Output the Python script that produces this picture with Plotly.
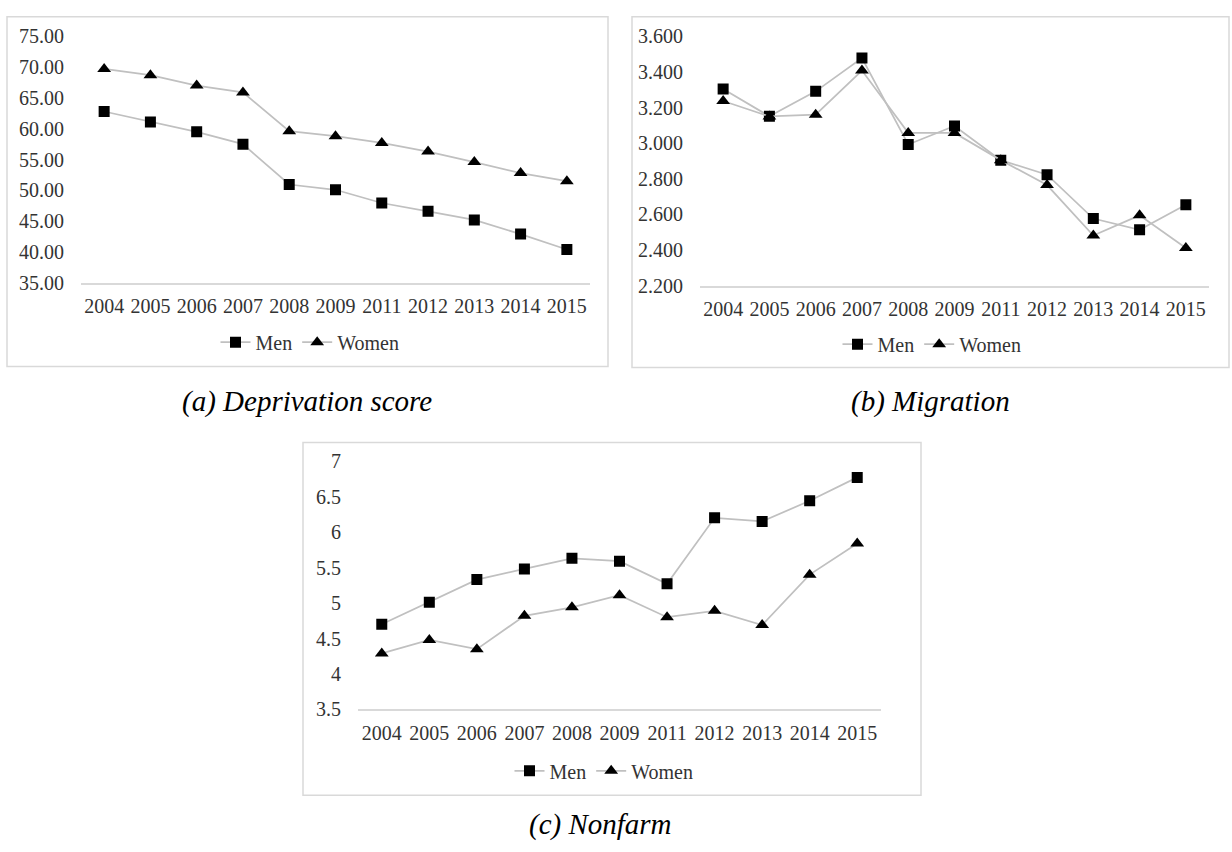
import plotly.graph_objects as go

# ---------------- data ----------------
years = ["2004", "2005", "2006", "2007", "2008", "2009", "2011", "2012", "2013", "2014", "2015"]

dep_men = [62.8, 61.1, 59.5, 57.5, 50.95, 50.1, 47.95, 46.6, 45.2, 42.9, 40.4]
dep_women = [69.7, 68.7, 67.0, 65.9, 59.6, 58.8, 57.7, 56.3, 54.6, 52.8, 51.5]

mig_men = [3.304, 3.151, 3.291, 3.478, 2.993, 3.097, 2.905, 2.823, 2.577, 2.514, 2.654]
mig_women = [3.237, 3.150, 3.160, 3.408, 3.058, 3.058, 2.905, 2.765, 2.482, 2.595, 2.412]

nf_men = [4.70, 5.01, 5.33, 5.48, 5.63, 5.59, 5.27, 6.20, 6.15, 6.44, 6.77]
nf_women = [4.29, 4.48, 4.35, 4.82, 4.94, 5.11, 4.80, 4.89, 4.69, 5.40, 5.84]

series_names = ["Men", "Women"]
captions = ["(a) Deprivation score", "(b) Migration", "(c) Nonfarm"]

# ---------------- layout helpers ----------------
W, H = 1232, 852
FONT = "Liberation Serif"
TXT = "#333333"
LINE = "#c0c0c0"
BORDER = "#d9d9d9"


def px(x):
    return x / W


def py(y):
    return 1 - y / H


panels = [
    dict(men=dep_men, women=dep_women, box=(7, 6, 608, 365), px_=(81, 590), py_=(26, 279),
         rng=[35, 75], dtick=5, fmt=".2f", xstand=4, leg=(310, 340), cap=(307, 401)),
    dict(men=mig_men, women=mig_women, box=(632, 6, 1229, 366), px_=(700, 1209), py_=(26, 282),
         rng=[2.2, 3.6], dtick=0.2, fmt=".3f", xstand=5, leg=(932, 342), cap=(930, 401)),
    dict(men=nf_men, women=nf_women, box=(303, 443, 921, 805), px_=(358, 881), py_=(462, 717),
         rng=[3.5, 7], dtick=0.5, fmt="", xstand=5, leg=(604, 780), cap=(600, 835)),
]

fig = go.Figure()
shapes = []
annotations = []
layout_extra = {}

for i, p in enumerate(panels, start=1):
    xa = "x" if i == 1 else f"x{i}"
    ya = "y" if i == 1 else f"y{i}"
    lg = "legend" if i == 1 else f"legend{i}"
    for name, vals, sym, size in [
        (series_names[0], p["men"], "square", 11),
        (series_names[1], p["women"], "triangle-up", 12),
    ]:
        fig.add_trace(go.Scatter(
            x=years, y=vals, name=name, mode="lines+markers",
            line=dict(color=LINE, width=1.75),
            marker=dict(symbol=sym, size=size, color="black"),
            xaxis=xa, yaxis=ya, legend=lg, showlegend=True,
        ))
    xkey = "xaxis" if i == 1 else f"xaxis{i}"
    ykey = "yaxis" if i == 1 else f"yaxis{i}"
    layout_extra[xkey] = dict(
        domain=[px(p["px_"][0]), px(p["px_"][1])],
        anchor=ya, type="category", range=[-0.5, 10.5],
        showline=True, linecolor=BORDER, linewidth=1.5,
        showgrid=False, zeroline=False, ticks="",
        tickfont=dict(family=FONT, size=20, color=TXT),
        ticklabelstandoff=p["xstand"], fixedrange=True,
    )
    yd = dict(
        domain=[py(p["py_"][1]), py(p["py_"][0])],
        anchor=xa, range=p["rng"], dtick=p["dtick"], tick0=p["rng"][0],
        showline=False, showgrid=False, zeroline=False, ticks="",
        tickfont=dict(family=FONT, size=20, color=TXT),
        ticklabelstandoff=16, fixedrange=True,
    )
    if p["fmt"]:
        yd["tickformat"] = p["fmt"]
    layout_extra[ykey] = yd
    layout_extra[lg] = dict(
        orientation="h", x=px(p["leg"][0]), y=py(p["leg"][1]),
        xanchor="center", yanchor="middle", xref="paper", yref="paper",
        bgcolor="rgba(0,0,0,0)", font=dict(family=FONT, size=20, color=TXT),
        itemwidth=30, tracegroupgap=0,
    )
    x0, y0, x1, y1 = p["box"]
    shapes.append(dict(type="rect", xref="paper", yref="paper",
                       x0=px(x0), x1=px(x1), y0=py(y1), y1=py(y0),
                       line=dict(color=BORDER, width=1.5), fillcolor="rgba(0,0,0,0)"))
    annotations.append(dict(text=f"<i>{captions[i-1]}</i>", xref="paper", yref="paper",
                            x=px(p["cap"][0]), y=py(p["cap"][1]),
                            xanchor="center", yanchor="middle", showarrow=False,
                            font=dict(family=FONT, size=29, color="black")))

fig.update_layout(
    width=W, height=H, margin=dict(l=0, r=0, t=0, b=0),
    paper_bgcolor="white", plot_bgcolor="white",
    shapes=shapes, annotations=annotations,
    **layout_extra,
)

fig.write_html("out.html")
